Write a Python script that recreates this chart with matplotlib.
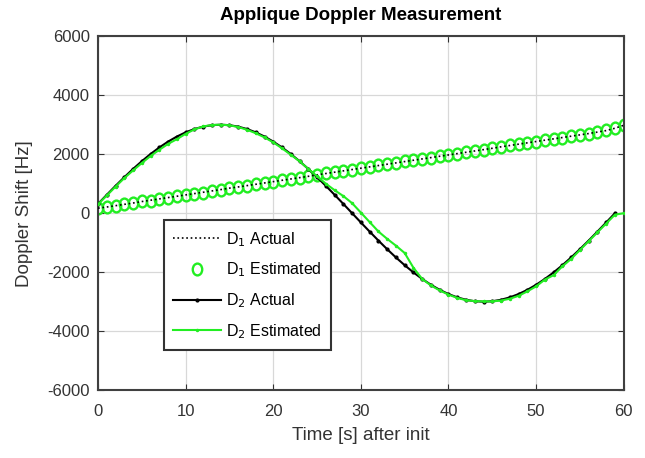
import numpy as np
import matplotlib
matplotlib.use("Agg")
import matplotlib.pyplot as plt
from matplotlib.path import Path
from matplotlib.transforms import Affine2D

plt.rcParams['font.family'] = ['Liberation Sans', 'DejaVu Sans']
plt.rcParams['axes.unicode_minus'] = False

# time axis (s)
t1 = np.arange(0, 61)
t2 = np.arange(0, 60)
t2_est = np.arange(0, 61)

# D1 (slow linear drift)
d1_actual = [170, 210, 255, 300, 345, 395, 440, 485, 530, 575, 620, 665, 710, 755, 800, 850,
             890, 935, 980, 1025, 1070, 1115, 1160, 1205, 1250, 1300, 1345, 1390, 1435, 1480,
             1525, 1570, 1615, 1660, 1705, 1750, 1795, 1840, 1885, 1930, 1975, 2020, 2065,
             2110, 2155, 2200, 2250, 2295, 2340, 2385, 2430, 2475, 2520, 2565, 2610, 2655,
             2700, 2750, 2800, 2880, 2980]
d1_est = [170, 200, 260, 300, 340, 400, 430, 480, 520, 580, 610, 660, 700, 740, 800, 850,
          880, 930, 980, 1030, 1060, 1110, 1150, 1200, 1260, 1300, 1360, 1400, 1430, 1480,
          1530, 1570, 1620, 1660, 1700, 1760, 1800, 1840, 1880, 1930, 1980, 2020, 2080,
          2110, 2150, 2200, 2260, 2300, 2330, 2380, 2420, 2480, 2520, 2560, 2610, 2650,
          2700, 2760, 2820, 2900, 2980]

# D2 (sinusoidal)
d2_actual = [314, 624, 927, 1220, 1500, 1763, 2007, 2229, 2427, 2598, 2741, 2853, 2934, 2984,
             3000, 2984, 2934, 2853, 2741, 2598, 2427, 2229, 2007, 1763, 1500, 1220, 927, 624,
             314, 0, -314, -624, -927, -1220, -1500, -1763, -2007, -2229, -2427, -2598, -2741,
             -2853, -2934, -2984, -3000, -2984, -2934, -2853, -2741, -2598, -2427, -2229,
             -2007, -1763, -1500, -1220, -927, -624, -314, 0]
d2_est = [300, 600, 900, 1190, 1450, 1700, 1940, 2150, 2350, 2510, 2690, 2840, 2940, 2990,
          3000, 2980, 2920, 2830, 2710, 2570, 2400, 2200, 1980, 1760, 1500, 1250, 1000, 780,
          580, 340, 20, -300, -620, -870, -1100, -1350, -1850, -2230, -2450, -2620, -2760,
          -2870, -2950, -2980, -2990, -2990, -2960, -2900, -2800, -2650, -2480, -2250,
          -2100, -1800, -1550, -1250, -950, -650, -350, -50, 0]

green = '#22ee22'
# slightly tall ellipse marker, like the squashed circles in the original
oval = Affine2D().scale(0.8, 1.0).transform_path(Path.unit_circle())

fig = plt.figure(figsize=(6.45, 4.58), dpi=100)
ax = fig.add_axes([0.152, 0.148, 0.815, 0.773])

ax.plot(t1, d1_actual, ':', color='black', lw=1.2, label='D$_1$ Actual', zorder=3)
ax.plot(t1, d1_est, linestyle='none', marker=oval, mfc='none', mec=green, ms=8.5, mew=1.7,
        label='D$_1$ Estimated', zorder=2)
ax.plot(t2, d2_actual, '-', color='black', lw=1.5, marker='.', ms=4, label='D$_2$ Actual', zorder=4)
ax.plot(t2_est, d2_est, '-', color=green, lw=1.5, marker='.', ms=3, label='D$_2$ Estimated', zorder=5)

ax.set_xlim(0, 60)
ax.set_ylim(-6000, 6000)
ax.set_xticks(np.arange(0, 61, 10))
ax.set_yticks(np.arange(-6000, 6001, 2000))
ax.grid(True, color='#d8d8d8', lw=0.9)
ax.set_axisbelow(True)
ax.tick_params(direction='in', length=4, labelsize=12, colors='#333333', top=True, right=True)
ax.tick_params(axis='x', pad=10)
ax.tick_params(axis='y', pad=6)
for s in ax.spines.values():
    s.set_color('#404040')
    s.set_linewidth(1.5)

ax.set_title('Applique Doppler Measurement', fontsize=13.5, fontweight='bold', pad=12)
ax.set_xlabel('Time [s] after init', fontsize=13.5, color='#333333', labelpad=6)
ax.set_ylabel('Doppler Shift [Hz]', fontsize=13.5, color='#333333', labelpad=10)

leg = ax.legend(loc='upper left', bbox_to_anchor=(0.125, 0.48), borderaxespad=0,
                fontsize=11.5, fancybox=False, framealpha=1, edgecolor='#333333',
                borderpad=0.6, handlelength=3.0, handletextpad=0.3, labelspacing=0.75)
leg.get_frame().set_linewidth(1.5)

fig.savefig('out.png', dpi=100)
